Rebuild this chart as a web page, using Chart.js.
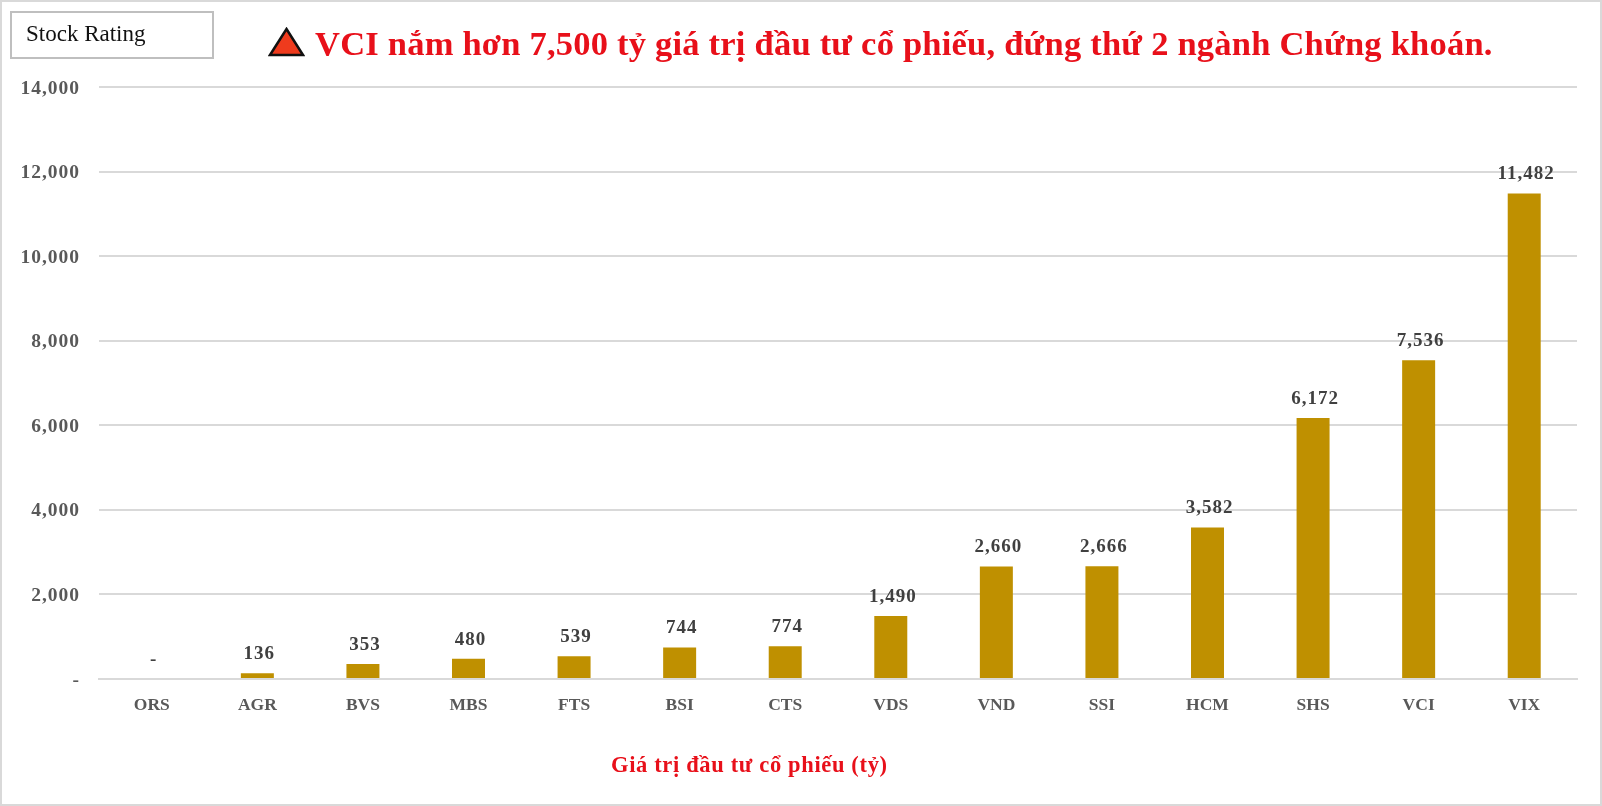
<!DOCTYPE html>
<html>
<head>
<meta charset="utf-8">
<style>
	html, body { margin: 0; padding: 0; background: #fff; }
	#wrap { position: relative; width: 1602px; height: 806px; overflow: hidden; font-family: "Liberation Serif", serif; }
	#frame { position: absolute; left: 0; top: 0; width: 1598px; height: 802px; border: 2px solid #d9d9d9; }
	#chartContainer { position: absolute; left: 0; top: 0; }
	#stock { position: absolute; left: 10px; top: 11px; width: 200px; height: 44px; border: 2px solid #bfbfbf; font-size: 23px; line-height: 42px; text-indent: 14px; color: #111; }
	#tri { position: absolute; left: 268px; top: 27px; }
	#title { position: absolute; left: 315px; top: 22px; font-size: 34.5px; font-weight: bold; color: #e8101a; white-space: nowrap; line-height: 42px; letter-spacing: 0.22px; }
	#xTitle { position: absolute; left: 611px; top: 751px; font-size: 22.5px; font-weight: bold; color: #e8101a; white-space: nowrap; line-height: 28px; letter-spacing: 0.65px; }
</style>
</head>
<body>
<div id="wrap">
	<canvas id="chartContainer" width="1602" height="806"></canvas>
	<div id="frame"></div>
	<div id="stock">Stock Rating</div>
	<svg id="tri" width="37" height="30"><polygon points="18.5,2 35,28 2,28" fill="#ef3b1d" stroke="#111" stroke-width="2.5"/></svg>
	<div id="title">VCI nắm hơn 7,500 tỷ giá trị đầu tư cổ phiếu, đứng thứ 2 ngành Chứng khoán.</div>
	<div id="xTitle">Giá trị đầu tư cổ phiếu (tỷ)</div>
</div>
<script src="https://cdn.jsdelivr.net/npm/chart.js@4"></script>
<script>
const tickers = ["ORS", "AGR", "BVS", "MBS", "FTS", "BSI", "CTS", "VDS", "VND", "SSI", "HCM", "SHS", "VCI", "VIX"];
const stockValues = [0, 136, 353, 480, 539, 744, 774, 1490, 2660, 2666, 3582, 6172, 7536, 11482];
const yTicks = [0, 2000, 4000, 6000, 8000, 10000, 12000, 14000];

function fmt(v) {
	return v === 0 ? "-" : v.toLocaleString("en-US");
}

// value labels above the bars
const barLabels = {
	id: "barLabels",
	afterDatasetsDraw(chart) {
		const ctx = chart.ctx;
		ctx.save();
		ctx.font = "bold 19px 'Liberation Serif'";
		ctx.letterSpacing = "1px";
		ctx.fillStyle = "#404040";
		ctx.textAlign = "center";
		ctx.textBaseline = "middle";
		chart.getDatasetMeta(0).data.forEach((bar, i) => {
			ctx.fillText(fmt(stockValues[i]), bar.x + 2, bar.y - 19);
		});
		ctx.restore();
	},
};

// y tick digits are wider in the original font and sit a bit lower
const spacedYLabels = {
	id: "spacedYLabels",
	afterLayout(chart) {
		const y = chart.scales.y;
		const draw = y.drawLabels;
		y.drawLabels = function (area) {
			const ctx = chart.ctx;
			ctx.save();
			ctx.letterSpacing = "1px";
			ctx.translate(0, 1.5);
			draw.call(y, area);
			ctx.restore();
		};
	},
};

new Chart(document.getElementById("chartContainer"), {
	type: "bar",
	data: {
		labels: tickers,
		datasets: [{
			data: stockValues,
			backgroundColor: "#bf9000",
			barPercentage: 0.3125,
			categoryPercentage: 1,
		}],
	},
	options: {
		responsive: false,
		animation: false,
		layout: { padding: { top: 87, right: 25, left: 0, bottom: 0 } },
		plugins: { legend: { display: false }, tooltip: { enabled: false } },
		scales: {
			x: {
				afterFit: (scale) => { scale.height = 127; },
				grid: { display: false },
				border: { color: "#d9d9d9", width: 2 },
				ticks: { color: "#595959", padding: 8, maxRotation: 0, font: { family: "Liberation Serif", size: 17.5, weight: "bold" } },
			},
			y: {
				min: 0,
				max: 14000,
				afterFit: (scale) => { scale.width = 99; },
				afterBuildTicks: (scale) => { scale.ticks = yTicks.map((v) => ({ value: v })); },
				grid: { color: "#d9d9d9", lineWidth: 2, drawTicks: false },
				border: { display: false },
				ticks: {
					color: "#595959",
					padding: 19,
					callback: (v) => fmt(v),
					font: { family: "Liberation Serif", size: 19.5, weight: "bold" },
				},
			},
		},
	},
	plugins: [barLabels, spacedYLabels],
});
</script>
</body>
</html>
